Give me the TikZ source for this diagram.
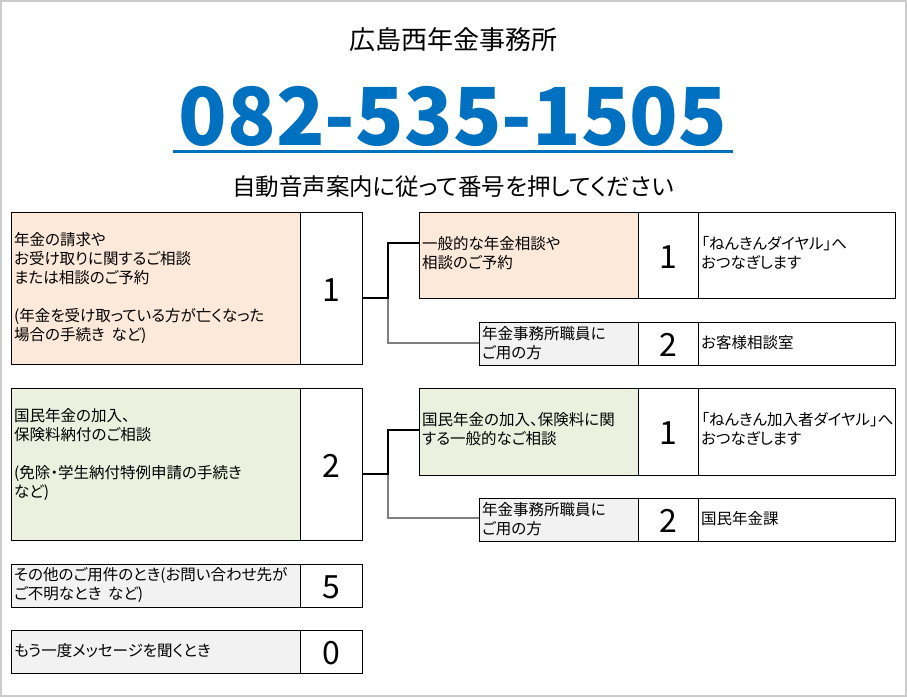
\documentclass[tikz,border=0pt]{standalone}
\usepackage{fontspec}
\setmainfont[RawFeature=+palt]{Noto Sans CJK JP}
\definecolor{peach}{HTML}{FCE9DA}
\definecolor{lgreen}{HTML}{EBF1DE}
\definecolor{lgray}{HTML}{F2F2F2}
\definecolor{tblue}{RGB}{0,112,192}
\begin{document}
\begin{tikzpicture}[x=1pt,y=-1pt,
  cell/.style={draw=black,line width=1pt},
  txt/.style={anchor=north west,align=left,inner sep=0pt,font=\fontsize{15.5}{19}\selectfont},
  num/.style={font=\fontsize{32}{32}\selectfont,inner sep=0pt},
  main/.style={line width=2pt,black},
  sub/.style={line width=1.3pt,gray}]
\useasboundingbox (0,0) rectangle (907,697);
\draw[gray!40,line width=1.5pt] (1,1) rectangle (906,696);
\node (title) at (453,40) {\fontsize{26}{26}\selectfont 広島西年金事務所};
\node[text=tblue] (tel) at (453,116) {\fontsize{80}{80}\selectfont\bfseries 082-535-1505};
\draw[tblue,line width=3pt] (173,151) -- (733,151);
\node (subt) at (453,187) {\fontsize{23.5}{24}\selectfont 自動音声案内に従って番号を押してください};
% group 1
\draw[cell,fill=peach] (11,212) rectangle (300,364);
\draw[cell] (300,212) rectangle (362,364);
\node[txt] (t1) at (14,232) {年金の請求や\\お受け取りに関するご相談\\または相談のご予約\\[19pt](年金を受け取っている方が亡くなった\\場合の手続き\ \ など)};
\node[num] (n1) at (331,290) {1};
\draw[cell,fill=peach] (419,212) rectangle (638,298);
\draw[cell] (638,212) rectangle (698,298);
\draw[cell] (698,212) rectangle (895,298);
\node[txt] (a1) at (422,236) {一般的な年金相談や\\相談のご予約};
\node[num] (an1) at (668,257) {1};
\node[txt] (ad1) at (701,236) {「ねんきんダイヤル」へ\\おつなぎします};
\draw[cell,fill=lgray] (479,322) rectangle (638,365);
\draw[cell] (638,322) rectangle (698,365);
\draw[cell] (698,322) rectangle (895,365);
\node[txt] (b1) at (482,326) {年金事務所職員に\\ご用の方};
\node[num] (bn1) at (668,345) {2};
\node[txt,anchor=west] (bd1) at (701,343) {お客様相談室};
\coordinate (j1) at (388,298);
\draw[sub] (j1) -- (388,343) -- (479,343);
\draw[main] (362,298) -- (j1) -- (388,243) -- (419,243);
% group 2
\draw[cell,fill=lgreen] (11,388) rectangle (300,540);
\draw[cell] (300,388) rectangle (362,540);
\node[txt] (t2) at (14,408) {国民年金の加入、\\保険料納付のご相談\\[19pt](免除・学生納付特例申請の手続き\\など)};
\node[num] (n2) at (331,466) {2};
\draw[cell,fill=lgreen] (419,388) rectangle (638,475);
\draw[cell] (638,388) rectangle (698,475);
\draw[cell] (698,388) rectangle (895,475);
\node[txt] (a2) at (422,412) {国民年金の加入、保険料に関\\する一般的なご相談};
\node[num] (an2) at (668,433) {1};
\node[txt] (ad2) at (701,412) {「ねんきん加入者ダイヤル」へ\\おつなぎします};
\draw[cell,fill=lgray] (479,498) rectangle (638,541);
\draw[cell] (638,498) rectangle (698,541);
\draw[cell] (698,498) rectangle (895,541);
\node[txt] (b2) at (482,502) {年金事務所職員に\\ご用の方};
\node[num] (bn2) at (668,521) {2};
\node[txt,anchor=west] (bd2) at (701,519) {国民年金課};
\coordinate (j2) at (388,474);
\draw[sub] (j2) -- (388,518) -- (479,518);
\draw[main] (362,474) -- (j2) -- (388,430) -- (419,430);
% others
\draw[cell,fill=lgray] (11,564) rectangle (300,607);
\draw[cell] (300,564) rectangle (362,607);
\node[txt] (t5) at (14,567) {その他のご用件のとき(お問い合わせ先が\\ご不明なとき\ \ など)};
\node[num] (n5) at (331,587) {5};
\draw[cell,fill=lgray] (11,630) rectangle (300,673);
\draw[cell] (300,630) rectangle (362,673);
\node[txt,anchor=west] (t0) at (14,651) {もう一度メッセージを聞くとき};
\node[num] (n0) at (331,653) {0};
\end{tikzpicture}
\end{document}
